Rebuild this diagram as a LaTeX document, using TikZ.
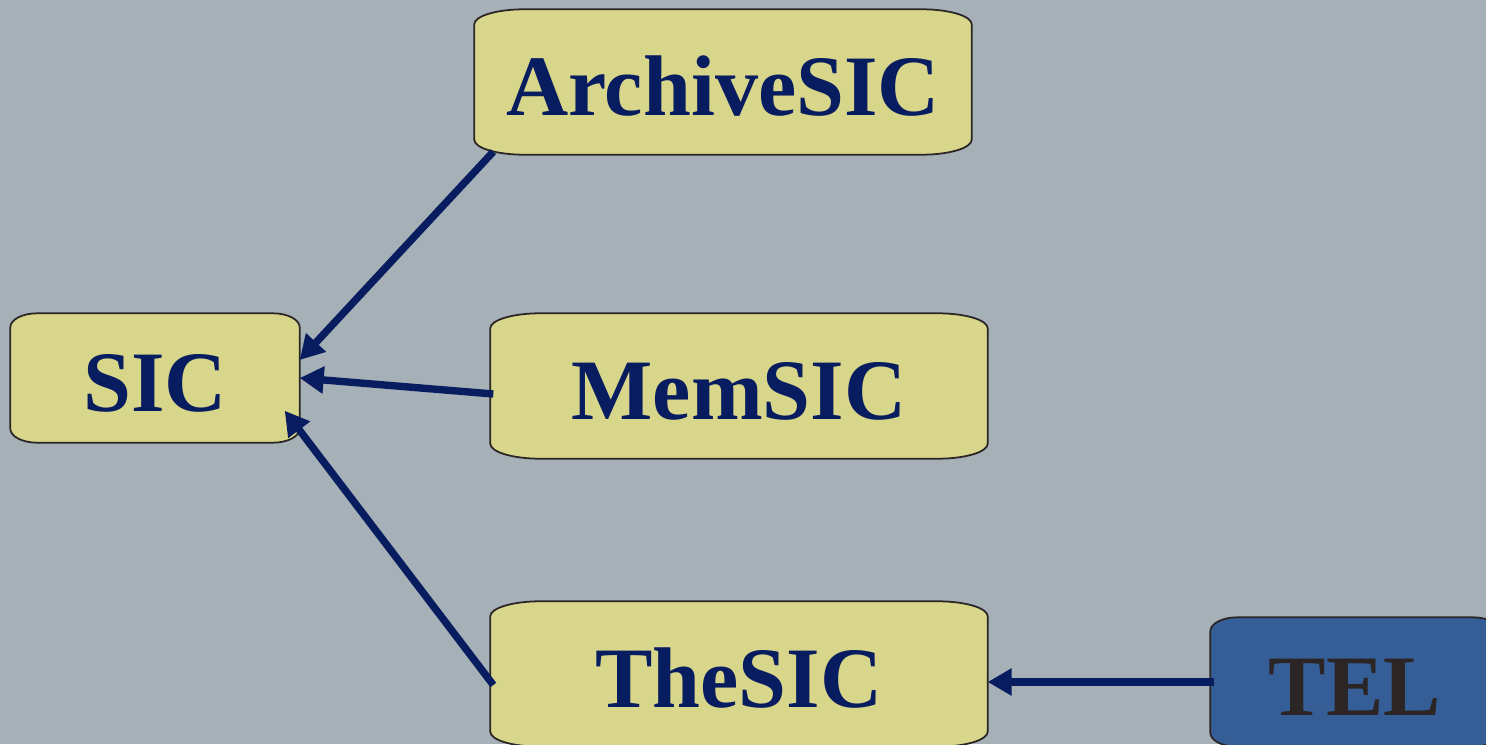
\documentclass[tikz,border=0pt]{standalone}
\usepackage{fontspec}
\setmainfont{Liberation Serif}
\usetikzlibrary{arrows.meta}
\definecolor{slate}{RGB}{165,177,182}
\definecolor{sand}{RGB}{216,214,138}
\definecolor{navy}{RGB}{8,28,96}
\definecolor{steel}{RGB}{54,94,150}
\definecolor{ink}{RGB}{43,37,38}
\pgfdeclarelayer{bg}
\pgfdeclarelayer{shell}
\pgfsetlayers{bg,shell,main}
\tikzset{
  boxtext/.style={inner sep=0pt, text height=0.8cm, text depth=0.14cm,
    font=\fontsize{24.5}{29}\selectfont\bfseries, text=navy},
  bigbox/.style={boxtext, minimum width=4.96cm, minimum height=1.44cm},
  smallbox/.style={boxtext, minimum width=2.88cm, minimum height=1.28cm},
  shellline/.style={draw=ink, line width=0.5pt},
  link/.style={draw=navy, line width=2.1pt, -{Triangle[length=0.24cm,width=0.26cm]}}
}
% outline with elliptic corners: node, fill, x radius, y radius
\newcommand{\drawshell}[4]{%
  \begin{pgfonlayer}{shell}
    \draw[shellline, fill=#2] ([xshift=#3cm]#1.north west) -- ([xshift=-#3cm]#1.north east)
      arc[start angle=90, end angle=0, x radius=#3cm, y radius=#4cm]
      -- ([yshift=#4cm]#1.south east)
      arc[start angle=0, end angle=-90, x radius=#3cm, y radius=#4cm]
      -- ([xshift=#3cm]#1.south west)
      arc[start angle=270, end angle=180, x radius=#3cm, y radius=#4cm]
      -- ([yshift=-#4cm]#1.north west)
      arc[start angle=180, end angle=90, x radius=#3cm, y radius=#4cm] -- cycle;
  \end{pgfonlayer}}
\begin{document}
\begin{tikzpicture}
  \useasboundingbox (0,0) rectangle (14.86,7.44);
  \begin{pgfonlayer}{bg}
    \fill[slate] (0,0) rectangle (14.86,7.44);
  \end{pgfonlayer}

  % boxes
  \node[bigbox] (archive) at (7.23,6.62) {ArchiveSIC};
  \node[smallbox] (sic) at (1.55,3.66) {SIC};
  \node[bigbox] (memsic) at (7.39,3.58) {MemSIC};
  \node[bigbox] (thesic) at (7.39,0.70) {TheSIC};
  \node[smallbox, text=ink] (tel) at (13.55,0.62) {TEL};

  \drawshell{archive}{sand}{0.5}{0.15}
  \drawshell{sic}{sand}{0.27}{0.14}
  \drawshell{memsic}{sand}{0.5}{0.15}
  \drawshell{thesic}{sand}{0.5}{0.15}
  \drawshell{tel}{steel}{0.27}{0.14}

  % links
  \draw[link] ([shift={(0.19,0.03)}]archive.south west) -- ([yshift=0.18cm]sic.east);
  \draw[link] ([shift={(0.03,-0.08)}]memsic.west) -- (sic.east);
  \draw[link] ([shift={(0.03,-0.11)}]thesic.west) -- ([shift={(-0.15,0.32)}]sic.south east);
  \draw[link] ([xshift=0.04cm]tel.west) -- (tel.west -| thesic.east);
\end{tikzpicture}
\end{document}
